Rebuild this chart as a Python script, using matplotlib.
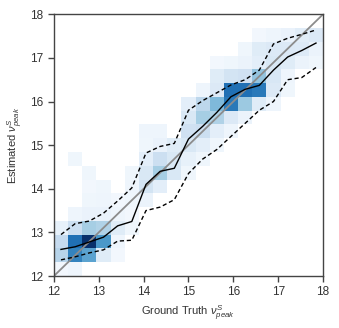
import numpy as np
import matplotlib
matplotlib.use("Agg")
import matplotlib.pyplot as plt

plt.rcParams['font.family'] = ['Liberation Sans', 'DejaVu Sans']
plt.rcParams['mathtext.fontset'] = 'custom'
plt.rcParams['mathtext.rm'] = 'Liberation Sans'
plt.rcParams['mathtext.it'] = 'Liberation Sans:italic'

# 19 x 19 bins between 12 and 18
edges = np.linspace(12, 18, 20)
centers = (edges[:-1] + edges[1:]) / 2

# relative counts, one row per estimated-value bin (bottom to top)
counts = [
    [3, 5, 0, 0, 0, 0, 0, 0, 0, 0, 0, 0, 0, 0, 0, 0, 0, 0, 0],
    [30, 68, 55, 12, 3, 0, 0, 0, 0, 0, 0, 0, 0, 0, 0, 0, 0, 0, 0],
    [25, 75, 100, 60, 5, 0, 0, 0, 0, 0, 0, 0, 0, 0, 0, 0, 0, 0, 0],
    [8, 22, 35, 32, 12, 4, 0, 0, 0, 0, 0, 0, 0, 0, 0, 0, 0, 0, 0],
    [0, 5, 7, 7, 5, 3, 0, 0, 0, 0, 0, 0, 0, 0, 0, 0, 0, 0, 0],
    [0, 0, 4, 5, 3, 4, 6, 0, 0, 0, 0, 0, 0, 0, 0, 0, 0, 0, 0],
    [0, 0, 3, 4, 0, 5, 18, 10, 0, 0, 0, 0, 0, 0, 0, 0, 0, 0, 0],
    [0, 0, 4, 0, 0, 4, 15, 35, 15, 4, 0, 0, 0, 0, 0, 0, 0, 0, 0],
    [0, 4, 0, 0, 0, 0, 10, 22, 15, 8, 4, 0, 0, 0, 0, 0, 0, 0, 0],
    [0, 0, 0, 0, 0, 0, 4, 7, 12, 15, 10, 4, 0, 0, 0, 0, 0, 0, 0],
    [0, 0, 0, 0, 0, 0, 5, 5, 0, 20, 22, 10, 5, 0, 0, 0, 0, 0, 0],
    [0, 0, 0, 0, 0, 0, 0, 0, 0, 15, 35, 32, 14, 6, 0, 0, 0, 0, 0],
    [0, 0, 0, 0, 0, 0, 0, 0, 0, 10, 28, 45, 72, 38, 12, 5, 0, 0, 0],
    [0, 0, 0, 0, 0, 0, 0, 0, 0, 0, 5, 14, 75, 75, 72, 14, 4, 0, 0],
    [0, 0, 0, 0, 0, 0, 0, 0, 0, 0, 0, 12, 18, 20, 40, 16, 5, 0, 0],
    [0, 0, 0, 0, 0, 0, 0, 0, 0, 0, 0, 3, 4, 6, 10, 15, 12, 6, 4],
    [0, 0, 0, 0, 0, 0, 0, 0, 0, 0, 0, 0, 0, 4, 12, 14, 14, 13, 6],
    [0, 0, 0, 0, 0, 0, 0, 0, 0, 0, 0, 0, 0, 0, 3, 5, 7, 11, 14],
    [0, 0, 0, 0, 0, 0, 0, 0, 0, 0, 0, 0, 0, 0, 0, 0, 0, 0, 0],
]

# median and spread of the estimate in each ground-truth bin
median = [12.61, 12.67, 12.78, 12.89, 13.15, 13.25, 14.10, 14.40, 14.47, 15.14,
          15.43, 15.75, 16.11, 16.28, 16.37, 16.72, 17.02, 17.17, 17.34]
upper = [12.95, 13.20, 13.26, 13.44, 13.72, 14.02, 14.82, 14.97, 15.04, 15.80,
         16.02, 16.20, 16.38, 16.50, 16.72, 17.32, 17.45, 17.54, 17.64]
lower = [12.37, 12.44, 12.53, 12.60, 12.80, 12.82, 13.50, 13.58, 13.75, 14.35,
         14.68, 14.90, 15.20, 15.50, 15.80, 16.00, 16.50, 16.55, 16.78]

fig = plt.figure(figsize=(3.39, 3.28), dpi=100)
ax = fig.add_axes([0.159, 0.1585, 0.794, 0.798])

h = np.ma.masked_equal(np.array(counts, dtype=float), 0)
ax.pcolormesh(edges, edges, h, cmap='Blues', vmin=0, vmax=100)

ax.plot([12, 18], [12, 18], color='#8c8c8c', lw=1.3)
ax.plot(centers, median, color='black', lw=1.0)
ax.plot(centers, upper, color='black', lw=1.0, ls='--', dashes=(3, 2))
ax.plot(centers, lower, color='black', lw=1.0, ls='--', dashes=(3, 2))

ax.set_xlim(12, 18)
ax.set_ylim(12, 18)
ax.set_xticks(range(12, 19))
ax.set_yticks(range(12, 19))
for s in ax.spines.values():
    s.set_color('#444444')
    s.set_linewidth(1.0)
ax.tick_params(direction='out', length=4, width=1, colors='#444444',
               labelsize=8.5, labelcolor='#333333')
ax.set_xlabel(r'Ground Truth $\nu^S_{peak}$', fontsize=8, color='#333333')
ax.set_ylabel(r'Estimated $\nu^S_{peak}$', fontsize=8, color='#333333')

fig.savefig('out.png', dpi=100)
